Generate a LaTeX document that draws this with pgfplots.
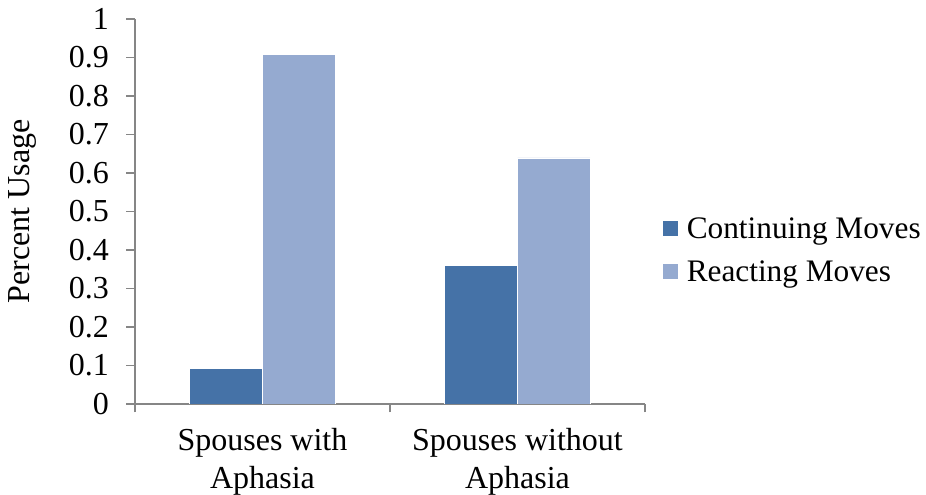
\documentclass[border=0pt]{standalone}
\usepackage{fontspec}
\setmainfont{Liberation Serif}
\usepackage{pgfplots}
\pgfplotsset{compat=1.18}
\definecolor{darkb}{HTML}{4572A7}
\definecolor{lightb}{HTML}{95AAD0}
\definecolor{axgray}{HTML}{868686}
\begin{document}
\begin{tikzpicture}[x=1pt,y=1pt]
\useasboundingbox (0,0) rectangle (926,495);
\begin{axis}[
  at={(135pt,91pt)}, anchor=south west,
  scale only axis, width=510pt, height=385pt,
  font=\fontsize{32}{38}\selectfont,
  /pgf/number format/assume math mode=true,
  ybar=0pt, bar width=0.285,
  xmin=-0.5, xmax=1.5, ymin=0, ymax=1,
  axis x line*=bottom, axis y line*=left,
  axis line style={draw=axgray, line width=1.2pt, -},
  tick style={draw=axgray, line width=1.2pt},
  tick align=outside, major tick length=8.5pt,
  xtick={-0.5,0.5,1.5}, xticklabels={},
  extra x ticks={0,1},
  extra x tick labels={{Spouses with\\Aphasia},{Spouses without\\Aphasia}},
  extra x tick style={major tick length=0pt, xticklabel style={align=center, anchor=north, yshift=-21pt}},
  ytick={0,0.1,0.2,0.3,0.4,0.5,0.6,0.7,0.8,0.9,1},
  yticklabels={0,0.1,0.2,0.3,0.4,0.5,0.6,0.7,0.8,0.9,1},
  yticklabel style={xshift=-14pt},
  ylabel={Percent Usage},
  ylabel style={at={(rel axis cs:-0.2216,0.5)}, anchor=center},
  legend style={at={(rel axis cs:1.027,0.4)}, anchor=west, draw=none, fill=none,
    font=\fontsize{31.3}{37}\selectfont, row sep=17pt,
    nodes={inner xsep=8pt}},
  legend cell align=left,
  legend image code/.code={\fill[#1] (0pt,-8pt) rectangle (16pt,8pt);},
]
\addplot[fill=darkb, draw=white, line width=0.8pt] coordinates {(0,0.093) (1,0.361)};
\addplot[fill=lightb, draw=white, line width=0.8pt] coordinates {(0,0.908) (1,0.639)};
\legend{Continuing Moves, Reacting Moves}
\end{axis}
\end{tikzpicture}
\end{document}
